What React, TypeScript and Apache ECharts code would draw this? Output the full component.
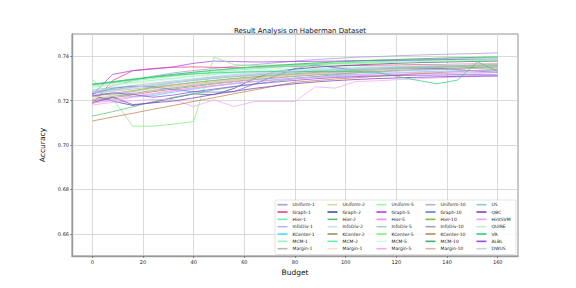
import React, { useEffect, useRef } from "react";
import * as echarts from "echarts";

const budgets = [0, 8, 16, 24, 32, 40, 48, 56, 64, 72, 80, 88, 96, 104, 112, 120, 128, 136, 144, 152, 160];

const uniform1 = [0.7230, 0.7265, 0.7290, 0.7310, 0.7325, 0.7335, 0.7345, 0.7355, 0.7362, 0.7370, 0.7378, 0.7385, 0.7390, 0.7395, 0.7398, 0.7402, 0.7405, 0.7408, 0.7410, 0.7412, 0.7415];
const graph1 = [0.7185, 0.7290, 0.7335, 0.7345, 0.7350, 0.7352, 0.7350, 0.7348, 0.7350, 0.7352, 0.7355, 0.7355, 0.7356, 0.7358, 0.7360, 0.7360, 0.7362, 0.7362, 0.7364, 0.7365, 0.7366];
const hier1 = [0.7270, 0.7285, 0.7298, 0.7308, 0.7318, 0.7326, 0.7334, 0.7342, 0.7348, 0.7354, 0.7360, 0.7364, 0.7368, 0.7372, 0.7375, 0.7378, 0.7380, 0.7382, 0.7384, 0.7386, 0.7388];
const infoDiv1 = [0.7230, 0.7225, 0.7240, 0.7262, 0.7280, 0.7295, 0.7308, 0.7318, 0.7326, 0.7332, 0.7338, 0.7342, 0.7346, 0.7350, 0.7352, 0.7355, 0.7357, 0.7359, 0.7360, 0.7362, 0.7363];
const kCenter1 = [0.7240, 0.7228, 0.7218, 0.7222, 0.7238, 0.7252, 0.7265, 0.7276, 0.7286, 0.7294, 0.7302, 0.7308, 0.7313, 0.7318, 0.7322, 0.7326, 0.7329, 0.7332, 0.7334, 0.7336, 0.7338];
const mcm1 = [0.7262, 0.7270, 0.7282, 0.7292, 0.7300, 0.7310, 0.7318, 0.7325, 0.7331, 0.7336, 0.7340, 0.7344, 0.7347, 0.7350, 0.7352, 0.7354, 0.7356, 0.7358, 0.7360, 0.7361, 0.7362];
const margin1 = [0.7235, 0.7242, 0.7252, 0.7262, 0.7272, 0.7282, 0.7290, 0.7298, 0.7305, 0.7312, 0.7318, 0.7324, 0.7329, 0.7333, 0.7337, 0.7340, 0.7343, 0.7346, 0.7348, 0.7350, 0.7352];
const uniform2 = [0.7210, 0.7222, 0.7235, 0.7248, 0.7260, 0.7272, 0.7282, 0.7292, 0.7300, 0.7308, 0.7315, 0.7322, 0.7328, 0.7334, 0.7339, 0.7344, 0.7348, 0.7352, 0.7356, 0.7359, 0.7362];
const graph2 = [0.7225, 0.7198, 0.7178, 0.7192, 0.7212, 0.7230, 0.7227, 0.7255, 0.7300, 0.7330, 0.7342, 0.7350, 0.7356, 0.7361, 0.7365, 0.7368, 0.7371, 0.7373, 0.7375, 0.7377, 0.7378];
const hier2 = [0.7130, 0.7150, 0.7172, 0.7195, 0.7215, 0.7232, 0.7248, 0.7262, 0.7275, 0.7287, 0.7298, 0.7308, 0.7317, 0.7325, 0.7332, 0.7338, 0.7344, 0.7349, 0.7354, 0.7358, 0.7362];
const infoDiv2 = [0.7245, 0.7255, 0.7266, 0.7276, 0.7286, 0.7294, 0.7302, 0.7308, 0.7314, 0.7319, 0.7323, 0.7326, 0.7328, 0.7329, 0.7328, 0.7326, 0.7324, 0.7322, 0.7320, 0.7316, 0.7314];
const kCenter2 = [0.7200, 0.7212, 0.7226, 0.7240, 0.7252, 0.7264, 0.7275, 0.7285, 0.7294, 0.7302, 0.7310, 0.7317, 0.7323, 0.7328, 0.7333, 0.7337, 0.7341, 0.7344, 0.7347, 0.7350, 0.7352];
const mcm2 = [0.7272, 0.7280, 0.7290, 0.7300, 0.7310, 0.7320, 0.7328, 0.7336, 0.7343, 0.7350, 0.7356, 0.7362, 0.7367, 0.7372, 0.7376, 0.7380, 0.7383, 0.7386, 0.7389, 0.7391, 0.7393];
const margin1b = [0.7215, 0.7225, 0.7236, 0.7247, 0.7258, 0.7268, 0.7278, 0.7287, 0.7295, 0.7303, 0.7310, 0.7317, 0.7323, 0.7329, 0.7334, 0.7339, 0.7343, 0.7347, 0.7351, 0.7354, 0.7357];
const uniform5 = [0.7268, 0.7278, 0.7290, 0.7302, 0.7314, 0.7325, 0.7335, 0.7344, 0.7352, 0.7359, 0.7365, 0.7370, 0.7375, 0.7379, 0.7382, 0.7385, 0.7388, 0.7390, 0.7392, 0.7394, 0.7396];
const graph5 = [0.7225, 0.7318, 0.7335, 0.7342, 0.7352, 0.7368, 0.7378, 0.7376, 0.7374, 0.7375, 0.7376, 0.7377, 0.7378, 0.7380, 0.7381, 0.7382, 0.7383, 0.7384, 0.7385, 0.7386, 0.7386];
const hier5 = [0.7195, 0.7205, 0.7218, 0.7232, 0.7246, 0.7258, 0.7268, 0.7278, 0.7286, 0.7293, 0.7299, 0.7304, 0.7308, 0.7312, 0.7315, 0.7318, 0.7320, 0.7322, 0.7324, 0.7326, 0.7328];
const infoDiv5 = [0.7250, 0.7258, 0.7268, 0.7279, 0.7289, 0.7298, 0.7306, 0.7313, 0.7320, 0.7326, 0.7331, 0.7336, 0.7340, 0.7344, 0.7347, 0.7350, 0.7352, 0.7354, 0.7356, 0.7358, 0.7359];
const kCenter5 = [0.7295, 0.7210, 0.7085, 0.7085, 0.7094, 0.7106, 0.7396, 0.7362, 0.7358, 0.7360, 0.7362, 0.7364, 0.7366, 0.7368, 0.7370, 0.7372, 0.7374, 0.7376, 0.7378, 0.7380, 0.7382];
const mcm5 = [0.7258, 0.7266, 0.7276, 0.7286, 0.7296, 0.7305, 0.7313, 0.7320, 0.7326, 0.7332, 0.7337, 0.7342, 0.7346, 0.7350, 0.7353, 0.7356, 0.7358, 0.7360, 0.7362, 0.7364, 0.7365];
const margin5 = [0.7180, 0.7192, 0.7200, 0.7205, 0.7204, 0.7173, 0.7204, 0.7173, 0.7196, 0.7196, 0.7196, 0.7262, 0.7256, 0.7286, 0.7289, 0.7294, 0.7298, 0.7302, 0.7306, 0.7309, 0.7312];
const uniform10 = [0.7238, 0.7248, 0.7260, 0.7271, 0.7282, 0.7292, 0.7301, 0.7309, 0.7316, 0.7323, 0.7329, 0.7334, 0.7339, 0.7343, 0.7347, 0.7350, 0.7353, 0.7356, 0.7358, 0.7360, 0.7362];
const graph10 = [0.7230, 0.7255, 0.7265, 0.7262, 0.7250, 0.7240, 0.7238, 0.7240, 0.7275, 0.7310, 0.7345, 0.7360, 0.7348, 0.7338, 0.7340, 0.7345, 0.7346, 0.7344, 0.7340, 0.7332, 0.7328];
const hier10 = [0.7220, 0.7232, 0.7245, 0.7258, 0.7270, 0.7281, 0.7291, 0.7300, 0.7308, 0.7315, 0.7321, 0.7327, 0.7332, 0.7337, 0.7341, 0.7345, 0.7348, 0.7351, 0.7354, 0.7356, 0.7358];
const infoDiv10 = [0.7205, 0.7218, 0.7232, 0.7245, 0.7257, 0.7268, 0.7278, 0.7287, 0.7295, 0.7302, 0.7309, 0.7315, 0.7320, 0.7325, 0.7329, 0.7333, 0.7337, 0.7340, 0.7343, 0.7345, 0.7347];
const kCenter10 = [0.7108, 0.7126, 0.7143, 0.7161, 0.7178, 0.7196, 0.7213, 0.7231, 0.7248, 0.7266, 0.7283, 0.7290, 0.7297, 0.7303, 0.7309, 0.7315, 0.7321, 0.7326, 0.7331, 0.7336, 0.7340];
const mcm10 = [0.7272, 0.7283, 0.7295, 0.7307, 0.7318, 0.7328, 0.7337, 0.7345, 0.7352, 0.7358, 0.7364, 0.7369, 0.7374, 0.7378, 0.7382, 0.7385, 0.7388, 0.7391, 0.7393, 0.7395, 0.7397];
const margin10 = [0.7222, 0.7232, 0.7243, 0.7254, 0.7265, 0.7275, 0.7285, 0.7294, 0.7302, 0.7310, 0.7317, 0.7323, 0.7329, 0.7334, 0.7339, 0.7343, 0.7347, 0.7351, 0.7354, 0.7357, 0.7360];
const us = [0.7242, 0.7250, 0.7260, 0.7270, 0.7280, 0.7290, 0.7299, 0.7307, 0.7314, 0.7320, 0.7326, 0.7331, 0.7335, 0.7339, 0.7342, 0.7345, 0.7348, 0.7350, 0.7352, 0.7354, 0.7356];
const qbc = [0.7190, 0.7215, 0.7182, 0.7190, 0.7198, 0.7212, 0.7228, 0.7242, 0.7255, 0.7266, 0.7276, 0.7284, 0.7290, 0.7295, 0.7299, 0.7302, 0.7305, 0.7307, 0.7309, 0.7310, 0.7311];
const hintSvm = [0.7188, 0.7200, 0.7214, 0.7228, 0.7242, 0.7255, 0.7266, 0.7276, 0.7285, 0.7293, 0.7300, 0.7306, 0.7311, 0.7316, 0.7320, 0.7324, 0.7327, 0.7330, 0.7332, 0.7334, 0.7336];
const quire = [0.7265, 0.7272, 0.7281, 0.7291, 0.7301, 0.7311, 0.7320, 0.7328, 0.7336, 0.7343, 0.7349, 0.7355, 0.7360, 0.7365, 0.7369, 0.7373, 0.7376, 0.7379, 0.7382, 0.7384, 0.7386];
const vr = [0.7275, 0.7285, 0.7296, 0.7306, 0.7314, 0.7320, 0.7325, 0.7328, 0.7330, 0.7331, 0.7331, 0.7331, 0.7330, 0.7332, 0.7328, 0.7310, 0.7292, 0.7276, 0.7292, 0.7374, 0.7332];
const albl = [0.7220, 0.7235, 0.7228, 0.7215, 0.7225, 0.7240, 0.7252, 0.7264, 0.7274, 0.7283, 0.7291, 0.7298, 0.7304, 0.7308, 0.7311, 0.7313, 0.7314, 0.7315, 0.7316, 0.7316, 0.7317];
const dwus = [0.7235, 0.7245, 0.7258, 0.7270, 0.7282, 0.7293, 0.7303, 0.7312, 0.7320, 0.7327, 0.7333, 0.7338, 0.7341, 0.7343, 0.7342, 0.7340, 0.7336, 0.7332, 0.7328, 0.7322, 0.7318];

// the second "Margin-1" entry carries a trailing space internally so that both entries exist
const seriesNames = [
  "Uniform-1", "Graph-1", "Hier-1", "InfoDiv-1", "KCenter-1", "MCM-1", "Margin-1",
  "Uniform-2", "Graph-2", "Hier-2", "InfoDiv-2", "KCenter-2", "MCM-2", "Margin-1 ",
  "Uniform-5", "Graph-5", "Hier-5", "InfoDiv-5", "KCenter-5", "MCM-5", "Margin-5",
  "Uniform-10", "Graph-10", "Hier-10", "InfoDiv-10", "KCenter-10", "MCM-10", "Margin-10",
  "US", "QBC", "HintSVM", "QUIRE", "VR", "ALBL", "DWUS",
];

const seriesValues = [
  uniform1, graph1, hier1, infoDiv1, kCenter1, mcm1, margin1,
  uniform2, graph2, hier2, infoDiv2, kCenter2, mcm2, margin1b,
  uniform5, graph5, hier5, infoDiv5, kCenter5, mcm5, margin5,
  uniform10, graph10, hier10, infoDiv10, kCenter10, mcm10, margin10,
  us, qbc, hintSvm, quire, vr, albl, dwus,
];

const seriesColors = [
  "#a89cd0", "#f0407a", "#70f0b0", "#c0b0f8", "#40e0f0", "#a0f0c8", "#b0b8b0",
  "#d8d8b0", "#4050a0", "#60c080", "#d0e0f0", "#a09060", "#60f0b0", "#f8e0c0",
  "#a0f8a0", "#b040f0", "#f090f0", "#b0d0c0", "#80f080", "#d0f8e8", "#f0a8f0",
  "#b8b0d0", "#6080d0", "#80c040", "#a0a0c0", "#c08850", "#40b070", "#d8b8a0",
  "#90c8c8", "#8040c0", "#f0a0f0", "#c0f0c0", "#30d080", "#9050e0", "#c0d0f8",
];

const xTicks = [0, 20, 40, 60, 80, 100, 120, 140, 160];
const yTicks = [0.66, 0.68, 0.7, 0.72, 0.74];

const FONT = "DejaVu Sans";

export default function App() {
  const ref = useRef<HTMLDivElement>(null);

  useEffect(() => {
    if (!ref.current) return;
    const chart = echarts.init(ref.current, null, { renderer: "svg" });

    const series = seriesNames.map((name, i) => ({
      name,
      type: "line",
      data: budgets.map((b, j) => [b, seriesValues[i][j]]),
      showSymbol: false,
      symbol: "none",
      color: seriesColors[i],
      lineStyle: { width: 0.9, opacity: 0.85 },
      z: 2,
    }));

    const columnLefts = [277.5, 327.5, 376.5, 425.5, 476.5];
    const legends = columnLefts.map((left, c) => ({
      orient: "vertical",
      left,
      top: 201.7,
      icon: "rect",
      itemWidth: 10,
      itemHeight: 1.6,
      itemGap: 1.33,
      selectedMode: false,
      data: seriesNames.slice(c * 7, c * 7 + 7),
      formatter: (n: string) => n.trim(),
      textStyle: { fontSize: 4.5, lineHeight: 6, color: "#222", fontFamily: FONT },
      padding: 0,
      z: 6,
    }));

    chart.setOption({
      animation: false,
      backgroundColor: "#ffffff",
      title: {
        text: "Result Analysis on Haberman Dataset",
        left: 295,
        textAlign: "center",
        top: 22,
        textStyle: { fontSize: 7, fontWeight: "normal", color: "#111", fontFamily: FONT },
      },
      grid: {
        left: 72,
        right: 58,
        top: 34,
        bottom: 32,
        show: true,
        borderColor: "#777",
        borderWidth: 0.8,
        backgroundColor: "transparent",
      },
      legend: legends,
      xAxis: {
        type: "value",
        min: -8,
        max: 168,
        splitNumber: 9,
        name: "Budget",
        nameLocation: "middle",
        nameGap: 11,
        nameTextStyle: { fontSize: 7.5, color: "#111", fontFamily: FONT },
        axisLine: { show: true, onZero: false, lineStyle: { color: "#999", width: 1.4 } },
        axisTick: { show: true, length: 2, customValues: xTicks, lineStyle: { color: "#555", width: 0.6 } },
        axisLabel: {
          customValues: xTicks,
          fontSize: 5,
          color: "#222",
          margin: 3,
          fontFamily: FONT,
          formatter: (v: number) => String(v),
        },
        splitLine: { show: true, lineStyle: { color: "#d2d2d2", width: 0.8 } },
      },
      yAxis: {
        type: "value",
        min: 0.65,
        max: 0.75,
        splitNumber: 5,
        name: "Accuracy",
        nameLocation: "middle",
        nameGap: 15,
        nameTextStyle: { fontSize: 7.5, color: "#111", fontFamily: FONT },
        axisLine: { show: true, onZero: false, lineStyle: { color: "#999", width: 1.4 } },
        axisTick: { show: true, length: 2, customValues: yTicks, lineStyle: { color: "#555", width: 0.6 } },
        axisLabel: {
          customValues: yTicks,
          fontSize: 5,
          color: "#222",
          margin: 3,
          fontFamily: FONT,
          formatter: (v: number) => v.toFixed(2),
        },
        splitLine: { show: true, lineStyle: { color: "#d2d2d2", width: 0.8 } },
      },
      graphic: [
        {
          type: "rect",
          z: 5,
          shape: { x: 275, y: 200, width: 241, height: 54.5, r: 1.5 },
          style: { fill: "rgba(255,255,255,0.85)", stroke: "#d0d0d0", lineWidth: 0.6 },
        },
      ],
      series,
    });

    return () => chart.dispose();
  }, []);

  return (
    <div
      ref={ref}
      style={{ position: "fixed", left: 0, top: 0, width: 576, height: 288, background: "#fff" }}
    />
  );
}
